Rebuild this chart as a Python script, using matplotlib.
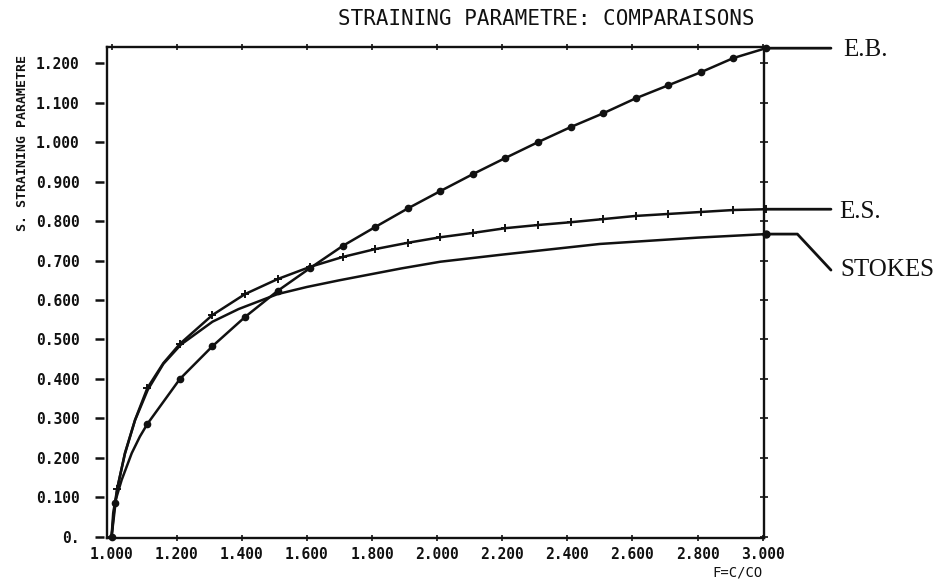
import numpy as np
import matplotlib
matplotlib.use("Agg")
import matplotlib.pyplot as plt

# Straining parameter S versus F = C/C0 for three theories.
# Series hold the plotted points; *_marked lists which of them carry a symbol.
f_eb = [1.0, 1.01, 1.031, 1.062, 1.087, 1.11, 1.21, 1.31, 1.41, 1.51, 1.61, 1.71, 1.81, 1.91,
        2.01, 2.11, 2.21, 2.31, 2.41, 2.51, 2.61, 2.71, 2.81, 2.91, 3.01]
s_eb = [0.0, 0.086, 0.144, 0.212, 0.254, 0.286, 0.400, 0.483, 0.557, 0.623, 0.681, 0.737, 0.785, 0.832,
        0.876, 0.919, 0.960, 1.000, 1.038, 1.073, 1.111, 1.144, 1.177, 1.213, 1.238]
eb_marked = [0, 1] + list(range(5, len(f_eb)))

f_es = [1.0, 1.017, 1.041, 1.072, 1.11, 1.159, 1.21, 1.31, 1.41, 1.51, 1.61, 1.71, 1.81, 1.91,
        2.01, 2.11, 2.21, 2.31, 2.41, 2.51, 2.61, 2.71, 2.81, 2.91, 3.01]
s_es = [0.0, 0.120, 0.212, 0.296, 0.377, 0.440, 0.489, 0.562, 0.615, 0.653, 0.684, 0.709, 0.729, 0.745,
        0.759, 0.770, 0.782, 0.790, 0.797, 0.805, 0.813, 0.818, 0.823, 0.828, 0.830]
es_marked = [0, 1, 4] + list(range(6, len(f_es)))

f_stokes = [1.0, 1.005, 1.018, 1.041, 1.072, 1.111, 1.159, 1.213, 1.31, 1.39, 1.51, 1.60, 1.70,
            1.89, 2.01, 2.2, 2.5, 2.8, 3.01]
s_stokes = [0.0, 0.060, 0.125, 0.210, 0.295, 0.372, 0.438, 0.487, 0.545, 0.577, 0.615, 0.633, 0.650,
            0.680, 0.697, 0.715, 0.742, 0.758, 0.767]

x_ticks = [1.0, 1.2, 1.4, 1.6, 1.8, 2.0, 2.2, 2.4, 2.6, 2.8, 3.0]
x_labels = ["1.000", "1.200", "1.400", "1.600", "1.800", "2.000",
            "2.200", "2.400", "2.600", "2.800", "3.000"]
y_ticks = [0.0, 0.1, 0.2, 0.3, 0.4, 0.5, 0.6, 0.7, 0.8, 0.9, 1.0, 1.1, 1.2]
y_labels = ["0.", "0.100", "0.200", "0.300", "0.400", "0.500", "0.600",
            "0.700", "0.800", "0.900", "1.000", "1.100", "1.200"]

INK = "#111111"
MONO = "DejaVu Sans Mono"
SERIF = "Liberation Serif"

fig = plt.figure(figsize=(9.46, 5.82), dpi=100)
ax = fig.add_axes([107 / 946, 44 / 582, 657 / 946, 491 / 582])
ax.set_xlim(0.986, 3.004)
ax.set_ylim(-0.003, 1.241)

lw = 1.8
ax.plot(f_eb, s_eb, color=INK, lw=lw, marker="o", ms=4.5, markevery=eb_marked,
        mec=INK, mfc=INK, clip_on=False, zorder=3)
ax.plot(f_es, s_es, color=INK, lw=lw, marker="+", ms=6, mew=1.4, markevery=es_marked,
        mec=INK, clip_on=False, zorder=3)
ax.plot(f_stokes, s_stokes, color=INK, lw=lw, marker="o", ms=5, markevery=[len(f_stokes) - 1],
        mfc=INK, mec=INK, clip_on=False, zorder=3)

# frame
for side in ("left", "right", "top", "bottom"):
    ax.spines[side].set_linewidth(1.7)
    ax.spines[side].set_color(INK)

ax.set_xticks(x_ticks)
ax.set_xticklabels(x_labels, family=MONO, fontweight="bold", fontsize=10.5, color=INK)
ax.tick_params(axis="x", which="major", bottom=True, top=True, direction="inout",
               length=4.5, width=1.2, color=INK, pad=4)

ax.set_yticks(y_ticks)
ax.tick_params(axis="y", which="major", left=False, labelleft=False, right=True,
               direction="inout", length=5.5, width=1.2, color=INK)

# detached tick dashes and labels on the left
sec = ax.secondary_yaxis(-3 / 657)
sec.spines["left"].set_visible(False)
sec.set_yticks(y_ticks)
sec.set_yticklabels(y_labels, family=MONO, fontweight="bold", fontsize=10.5, color=INK)
sec.tick_params(axis="y", direction="out", length=6.5, width=1.8, color=INK, pad=11)

fig.text(546 / 946, 1 - 19 / 582, "STRAINING PARAMETRE: COMPARAISONS",
         ha="center", va="center", fontsize=15, family=MONO, color=INK)
fig.text(22 / 946, 1 - 143 / 582, "S. STRAINING PARAMETRE", rotation=90,
         ha="center", va="center", fontsize=9.5, family=MONO, fontweight="bold", color=INK)
fig.text(738 / 946, 1 - 573 / 582, "F=C/CO", ha="center", va="center",
         fontsize=10, family=MONO, color=INK)

# curve labels with leader lines
pt = 0.72
leader = dict(arrowstyle="-", lw=2.0, color=INK, shrinkA=0, shrinkB=0)
ax.annotate("", xy=(f_eb[-1], s_eb[-1]), xytext=(65 * pt, 0), textcoords="offset points",
            arrowprops=leader, annotation_clip=False)
ax.annotate("E.B.", xy=(f_eb[-1], s_eb[-1]), xytext=(77 * pt, -2 * pt), textcoords="offset points",
            ha="left", va="center", fontsize=18, family=SERIF, color=INK, annotation_clip=False)

ax.annotate("", xy=(f_es[-1], s_es[-1]), xytext=(65 * pt, 0), textcoords="offset points",
            arrowprops=leader, annotation_clip=False)
ax.annotate("E.S.", xy=(f_es[-1], s_es[-1]), xytext=(73 * pt, -3 * pt), textcoords="offset points",
            ha="left", va="center", fontsize=18, family=SERIF, color=INK, annotation_clip=False)

ax.annotate("", xy=(f_stokes[-1], s_stokes[-1]), xytext=(65 * pt, -36 * pt), textcoords="offset points",
            arrowprops=dict(leader, connectionstyle="angle,angleA=133,angleB=0,rad=0"),
            annotation_clip=False)
ax.annotate("STOKES", xy=(f_stokes[-1], s_stokes[-1]), xytext=(74 * pt, -36 * pt),
            textcoords="offset points", ha="left", va="center", fontsize=18, family=SERIF,
            color=INK, annotation_clip=False)

fig.savefig("out.png", dpi=100, facecolor="white")
